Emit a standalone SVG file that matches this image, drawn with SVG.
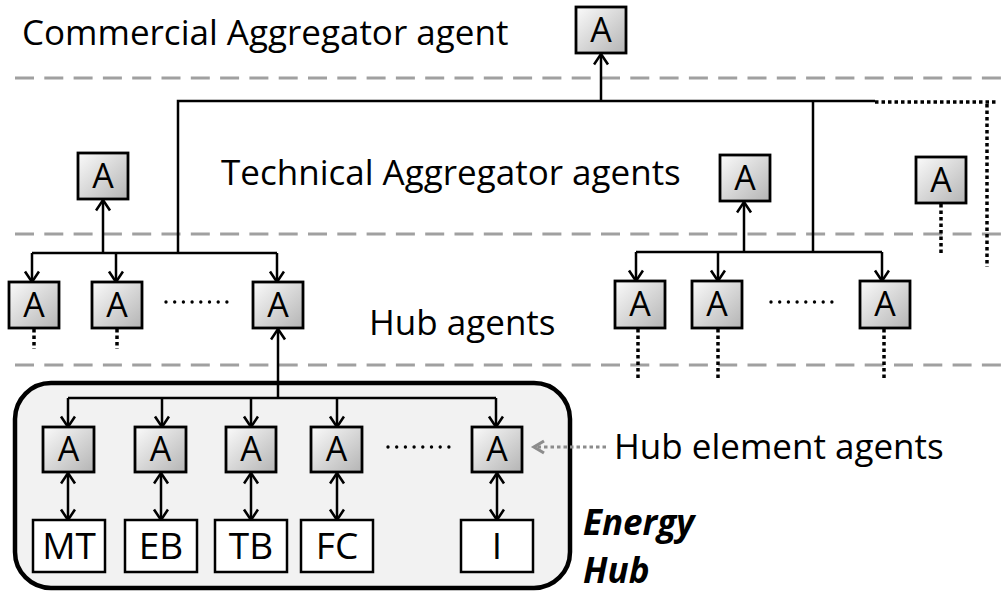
<svg xmlns="http://www.w3.org/2000/svg" width="1003" height="592" viewBox="0 0 1003 592">
  <defs>
    <linearGradient id="agentFill" x1="0" y1="0" x2="1" y2="1">
      <stop offset="0" stop-color="#fbfbfb"/>
      <stop offset="1" stop-color="#b4b4b4"/>
    </linearGradient>
    <marker id="arrow" markerUnits="userSpaceOnUse" markerWidth="18" markerHeight="18" refX="12" refY="8" orient="auto-start-reverse">
      <path d="M1.5,1 L12,8 L1.5,15" fill="none" stroke="#000" stroke-width="2.6"/>
    </marker>
    <marker id="arrowGrey" markerUnits="userSpaceOnUse" markerWidth="18" markerHeight="18" refX="12" refY="8" orient="auto">
      <path d="M2,2 L12,8 L2,14" fill="none" stroke="#8c8c8c" stroke-width="3.2"/>
    </marker>
  </defs>
  <style>
    .layer { stroke: #a0a0a0; stroke-width: 3; stroke-dasharray: 19 10.3; fill: none; }
    .agent rect { fill: url(#agentFill); stroke: #000; stroke-width: 2.8; }
    .agent text { font-family: "Open Sans", Lato, sans-serif; font-size: 34px; fill: #000; text-anchor: middle; }
    .device text { font-family: "Open Sans", Lato, sans-serif; font-size: 37px; fill: #000; text-anchor: middle; }
    .device rect { fill: #fff; stroke: #000; stroke-width: 2.5; }
    .label { font-family: "Open Sans", Lato, sans-serif; font-size: 35px; fill: #000; }
    .hubname { font-family: "Open Sans", Lato, sans-serif; font-size: 35px; font-weight: bold; font-style: italic; fill: #000; }
    .link { stroke: #000; stroke-width: 2.5; fill: none; }
    .link.arrowed { marker-end: url(#arrow); }
    .link.both { marker-start: url(#arrow); marker-end: url(#arrow); }
    .more { stroke: #000; stroke-width: 3.5; stroke-dasharray: 3.5 3; fill: none; }
    .ellipsis { stroke: #000; stroke-width: 3.4; stroke-linecap: round; stroke-dasharray: 0 8.7; fill: none; }
    .pointer { stroke: #8c8c8c; stroke-width: 3.2; stroke-dasharray: 3.5 3; fill: none; marker-end: url(#arrowGrey); }
  </style>

  <!-- layer separators -->
  <g id="layers">
    <line class="layer" x1="15" y1="78" x2="1003" y2="78"/>
    <line class="layer" x1="15" y1="234" x2="1003" y2="234"/>
    <line class="layer" x1="15" y1="365" x2="1003" y2="365"/>
  </g>

  <!-- layer labels -->
  <g id="labels">
    <text class="label" x="22" y="45">Commercial Aggregator agent</text>
    <text class="label" x="221" y="185">Technical Aggregator agents</text>
    <text class="label" x="369" y="335">Hub agents</text>
    <text class="label" x="614" y="459">Hub element agents</text>
  </g>

  <!-- energy hub container -->
  <g id="energy-hub">
    <rect x="15" y="383" width="555" height="205" rx="36" fill="#f2f2f2" stroke="#000" stroke-width="4.5"/>
    <text class="hubname" x="583" y="535">Energy</text>
    <text class="hubname" x="583" y="583">Hub</text>
  </g>

  <!-- connectors -->
  <g id="connectors">
    <!-- commercial level -->
    <line class="link arrowed" x1="601" y1="101" x2="601" y2="54"/>
    <polyline class="link" points="178,253 178,101 875,101"/>
    <polyline class="more" points="875,102 998,102"/>
    <line class="more" x1="987" y1="104" x2="987" y2="267"/>
    <line class="link" x1="813" y1="101" x2="813" y2="252"/>

    <!-- left technical aggregator -->
    <line class="link arrowed" x1="103" y1="253" x2="103" y2="200"/>
    <line class="link" x1="32" y1="253" x2="277" y2="253"/>
    <line class="link arrowed" x1="32" y1="253" x2="32" y2="282"/>
    <line class="link arrowed" x1="116" y1="253" x2="116" y2="282"/>
    <line class="link arrowed" x1="277" y1="253" x2="277" y2="282"/>

    <!-- right technical aggregator -->
    <line class="link arrowed" x1="744" y1="252" x2="744" y2="202"/>
    <line class="link" x1="636" y1="252" x2="882" y2="252"/>
    <line class="link arrowed" x1="636" y1="252" x2="636" y2="281"/>
    <line class="link arrowed" x1="718" y1="252" x2="718" y2="281"/>
    <line class="link arrowed" x1="882" y1="252" x2="882" y2="281"/>

    <!-- continuation marks -->
    <line class="more" x1="941" y1="204" x2="941" y2="253"/>
    <line class="more" x1="34" y1="329" x2="34" y2="349"/>
    <line class="more" x1="117" y1="329" x2="117" y2="349"/>
    <line class="more" x1="638" y1="329" x2="638" y2="381"/>
    <line class="more" x1="718" y1="329" x2="718" y2="381"/>
    <line class="more" x1="884" y1="329" x2="884" y2="381"/>

    <!-- hub to hub element agents -->
    <line class="link arrowed" x1="278" y1="398" x2="278" y2="329"/>
    <line class="link" x1="68" y1="398" x2="496" y2="398"/>
    <line class="link arrowed" x1="68" y1="398" x2="68" y2="427"/>
    <line class="link arrowed" x1="162" y1="398" x2="162" y2="427"/>
    <line class="link arrowed" x1="251" y1="398" x2="251" y2="427"/>
    <line class="link arrowed" x1="337" y1="398" x2="337" y2="427"/>
    <line class="link arrowed" x1="496" y1="398" x2="496" y2="427"/>

    <!-- agent to device -->
    <line class="link both" x1="68" y1="473" x2="68" y2="520"/>
    <line class="link both" x1="161" y1="473" x2="161" y2="520"/>
    <line class="link both" x1="251" y1="473" x2="251" y2="520"/>
    <line class="link both" x1="337" y1="473" x2="337" y2="520"/>
    <line class="link both" x1="497" y1="473" x2="497" y2="520"/>

    <!-- ellipses between agents -->
    <line class="ellipsis" x1="166" y1="302" x2="228" y2="302"/>
    <line class="ellipsis" x1="771" y1="302" x2="833" y2="302"/>
    <line class="ellipsis" x1="388" y1="447" x2="450" y2="447"/>

    <!-- pointer to hub element agents -->
    <line class="pointer" x1="606" y1="447" x2="534" y2="447"/>
  </g>

  <!-- commercial aggregator -->
  <g id="agent-commercial" class="agent"><rect x="576" y="7" width="50" height="46"/><text x="601" y="42">A</text></g>

  <!-- technical aggregators -->
  <g id="agent-tech-1" class="agent"><rect x="78" y="153" width="50" height="46"/><text x="103" y="188">A</text></g>
  <g id="agent-tech-2" class="agent"><rect x="720" y="155" width="50" height="46"/><text x="745" y="190">A</text></g>
  <g id="agent-tech-3" class="agent"><rect x="916" y="157" width="50" height="46"/><text x="941" y="192">A</text></g>

  <!-- hub agents -->
  <g id="agent-hub-1" class="agent"><rect x="9" y="282" width="50" height="46"/><text x="34" y="317">A</text></g>
  <g id="agent-hub-2" class="agent"><rect x="92" y="282" width="50" height="46"/><text x="117" y="317">A</text></g>
  <g id="agent-hub-3" class="agent"><rect x="253" y="282" width="50" height="46"/><text x="278" y="317">A</text></g>
  <g id="agent-hub-4" class="agent"><rect x="615" y="281" width="50" height="47"/><text x="640" y="316">A</text></g>
  <g id="agent-hub-5" class="agent"><rect x="692" y="281" width="50" height="47"/><text x="717" y="316">A</text></g>
  <g id="agent-hub-6" class="agent"><rect x="860" y="281" width="50" height="47"/><text x="885" y="316">A</text></g>

  <!-- hub element agents -->
  <g id="agent-el-mt" class="agent"><rect x="43" y="427" width="51" height="45"/><text x="68.5" y="461">A</text></g>
  <g id="agent-el-eb" class="agent"><rect x="135" y="427" width="51" height="45"/><text x="160.5" y="461">A</text></g>
  <g id="agent-el-tb" class="agent"><rect x="226" y="427" width="50" height="45"/><text x="251" y="461">A</text></g>
  <g id="agent-el-fc" class="agent"><rect x="311" y="427" width="51" height="45"/><text x="336.5" y="461">A</text></g>
  <g id="agent-el-i" class="agent"><rect x="472" y="427" width="50" height="45"/><text x="497" y="461">A</text></g>

  <!-- hub elements -->
  <g id="device-mt" class="device"><rect x="33" y="520" width="72" height="52"/><text x="69" y="559">MT</text></g>
  <g id="device-eb" class="device"><rect x="125" y="520" width="72" height="52"/><text x="161" y="559">EB</text></g>
  <g id="device-tb" class="device"><rect x="215" y="520" width="72" height="52"/><text x="251" y="559">TB</text></g>
  <g id="device-fc" class="device"><rect x="301" y="520" width="72" height="52"/><text x="337" y="559">FC</text></g>
  <g id="device-i" class="device"><rect x="461" y="520" width="72" height="52"/><text x="497" y="559">I</text></g>
</svg>
